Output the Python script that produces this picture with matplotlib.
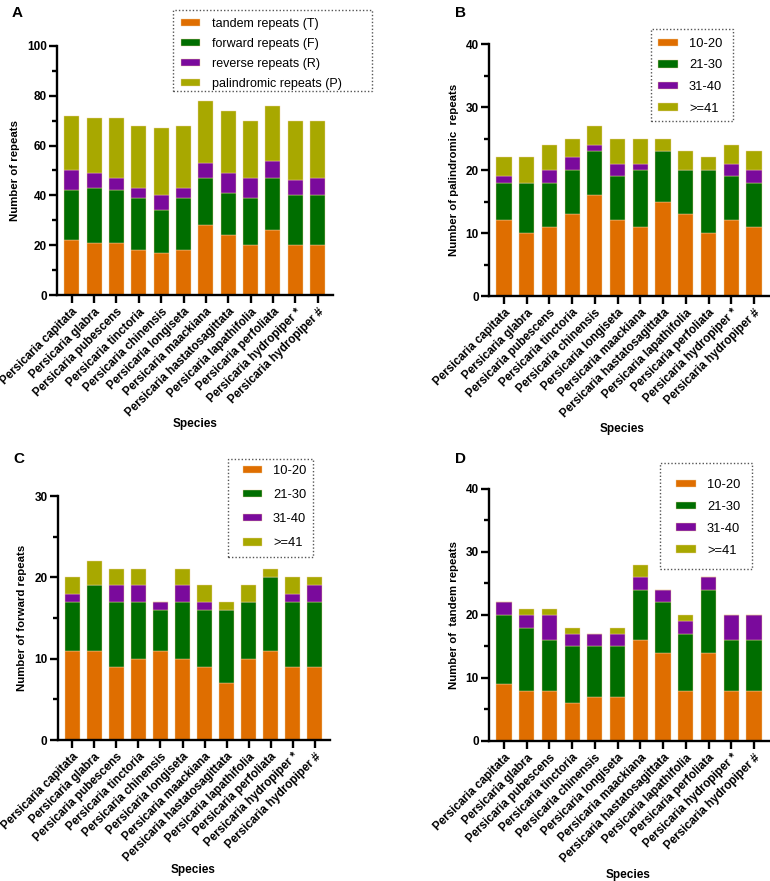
import numpy as np
import matplotlib
matplotlib.use("Agg")
import matplotlib.pyplot as plt
from matplotlib.patches import Rectangle
from matplotlib.ticker import MultipleLocator

plt.rcParams['font.family'] = ['Liberation Sans', 'DejaVu Sans']

W, H = 770, 881

species = ["Persicaria capitata", "Persicaria glabra", "Persicaria pubescens",
           "Persicaria tinctoria", "Persicaria chinensis", "Persicaria longiseta",
           "Persicaria maackiana", "Persicaria hastatosagittata",
           "Persicaria lapathifolia", "Persicaria perfoliata",
           "Persicaria hydropiper *", "Persicaria hydropiper #"]

# panel A: repeat types
tandem = [22, 21, 21, 18, 17, 18, 28, 24, 20, 26, 20, 20]
forward = [20, 22, 21, 21, 17, 21, 19, 17, 19, 21, 20, 20]
reverse = [8, 6, 5, 4, 6, 4, 6, 8, 8, 7, 6, 7]
palindromic = [22, 22, 24, 25, 27, 25, 25, 25, 23, 22, 24, 23]
type_labels = ["tandem repeats (T)", "forward repeats (F)",
               "reverse repeats (R)", "palindromic repeats (P)"]

size_labels = ["10-20", "21-30", "31-40", ">=41"]

# panel B: palindromic repeats by length
pal_10_20 = [12, 10, 11, 13, 16, 12, 11, 15, 13, 10, 12, 11]
pal_21_30 = [6, 8, 7, 7, 7, 7, 9, 8, 7, 10, 7, 7]
pal_31_40 = [1, 0, 2, 2, 1, 2, 1, 0, 0, 0, 2, 2]
pal_41 = [3, 4, 4, 3, 3, 4, 4, 2, 3, 2, 3, 3]

# panel C: forward repeats by length
fwd_10_20 = [11, 11, 9, 10, 11, 10, 9, 7, 10, 11, 9, 9]
fwd_21_30 = [6, 8, 8, 7, 5, 7, 7, 9, 7, 9, 8, 8]
fwd_31_40 = [1, 0, 2, 2, 1, 2, 1, 0, 0, 0, 1, 2]
fwd_41 = [2, 3, 2, 2, 0, 2, 2, 1, 2, 1, 2, 1]

# panel D: tandem repeats by length
tan_10_20 = [9, 8, 8, 6, 7, 7, 16, 14, 8, 14, 8, 8]
tan_21_30 = [11, 10, 8, 9, 8, 8, 8, 8, 9, 10, 8, 8]
tan_31_40 = [2, 2, 4, 2, 2, 2, 2, 2, 2, 2, 4, 4]
tan_41 = [0, 1, 1, 1, 0, 1, 2, 0, 1, 0, 0, 0]

colors = ["#DF6E00", "#006E00", "#7A0A9C", "#A8A800"]


def stacked(ax, series, labels, ymax, major, ylabel):
    x = np.arange(len(species))
    bottom = np.zeros(len(species))
    for vals, lab, col in zip(series, labels, colors):
        ax.bar(x, vals, bottom=bottom, width=0.67, color=col, label=lab,
               edgecolor="#f0d0a0", linewidth=0.3)
        bottom += np.array(vals)
    ax.set_ylim(0, ymax)
    ax.set_xlim(-0.66, 11.67)
    ax.yaxis.set_major_locator(MultipleLocator(major))
    ax.yaxis.set_minor_locator(MultipleLocator(major / 2))
    for s in ["top", "right"]:
        ax.spines[s].set_visible(False)
    for s in ["left", "bottom"]:
        ax.spines[s].set_linewidth(1.7)
    ax.tick_params(axis="y", which="major", length=5.8, width=1.7, labelsize=8.5, pad=1.5)
    ax.tick_params(axis="y", which="minor", length=3.4, width=1.7)
    ax.tick_params(axis="x", length=5.8, width=1.7, labelsize=8.4, pad=2)
    ax.set_xticks(x)
    ax.set_xticklabels(species, rotation=45, ha="right", va="top",
                       rotation_mode="anchor", fontweight="bold")
    for t in ax.get_yticklabels():
        t.set_fontweight("bold")
    ax.set_ylabel(ylabel, fontweight="bold", fontsize=8.2, labelpad=5)


def legend(ax, fs, hx, cy, step, tx, hw, box):
    # hx: handle left px, cy: first row centre px, step: row spacing px
    # tx: text start px, hw: handle width px, box: (x0, y0, x1, y1) px
    fpx = fs * 100 / 72
    top = cy - 0.47 * fpx + 2
    ax.legend(loc="upper left", bbox_to_anchor=(hx / W, 1 - top / H),
              bbox_transform=ax.figure.transFigure, frameon=False,
              fontsize=fs, handlelength=hw / fpx, handleheight=0.5,
              labelspacing=(step - 0.94 * fpx) / fpx, borderpad=0,
              borderaxespad=0, handletextpad=(tx - hx - hw) / fpx)
    x0, y0, x1, y1 = box
    ax.figure.add_artist(Rectangle((x0 / W, 1 - y1 / H), (x1 - x0) / W, (y1 - y0) / H,
                                   transform=ax.figure.transFigure, fill=False,
                                   edgecolor="#555555", linestyle=(0, (1, 1.5)),
                                   linewidth=1.0))


fig = plt.figure(figsize=(W / 100, H / 100), dpi=100)

axA = fig.add_axes([0.074, 0.665, 0.358, 0.283])
stacked(axA, [tandem, forward, reverse, palindromic], type_labels, 100, 20,
        "Number of repeats")
legend(axA, 9, 181, 22, 19.7, 212, 19, (173, 10, 372, 91))

axB = fig.add_axes([0.635, 0.664, 0.364, 0.286])
stacked(axB, [pal_10_20, pal_21_30, pal_31_40, pal_41], size_labels, 40, 10,
        "Number of palindromic  repeats")
legend(axB, 9.3, 658, 42, 21.7, 689, 20, (651, 29, 733, 121))

axC = fig.add_axes([0.075, 0.160, 0.353, 0.277])
stacked(axC, [fwd_10_20, fwd_21_30, fwd_31_40, fwd_41], size_labels, 30, 10,
        "Number of forward repeats")
legend(axC, 9.3, 243, 469, 24.3, 273, 19, (228, 459, 313, 557))

axD = fig.add_axes([0.635, 0.159, 0.364, 0.286])
stacked(axD, [tan_10_20, tan_21_30, tan_31_40, tan_41], size_labels, 40, 10,
        "Number of  tandem repeats")
legend(axD, 9.3, 676, 483, 22, 707, 20, (660, 463, 752, 569))

for lab, px, py in [("A", 12, 6), ("B", 455, 6), ("C", 13, 452), ("D", 455, 452)]:
    fig.text(px / W, 1 - py / H, lab, fontsize=11, fontweight="bold", va="top")

for px, py in [(195, 424), (622, 429), (193, 870), (628, 875)]:
    fig.text(px / W, 1 - py / H, "Species", fontsize=8.5, fontweight="bold",
             ha="center", va="center")

fig.savefig("out.png", dpi=100)
